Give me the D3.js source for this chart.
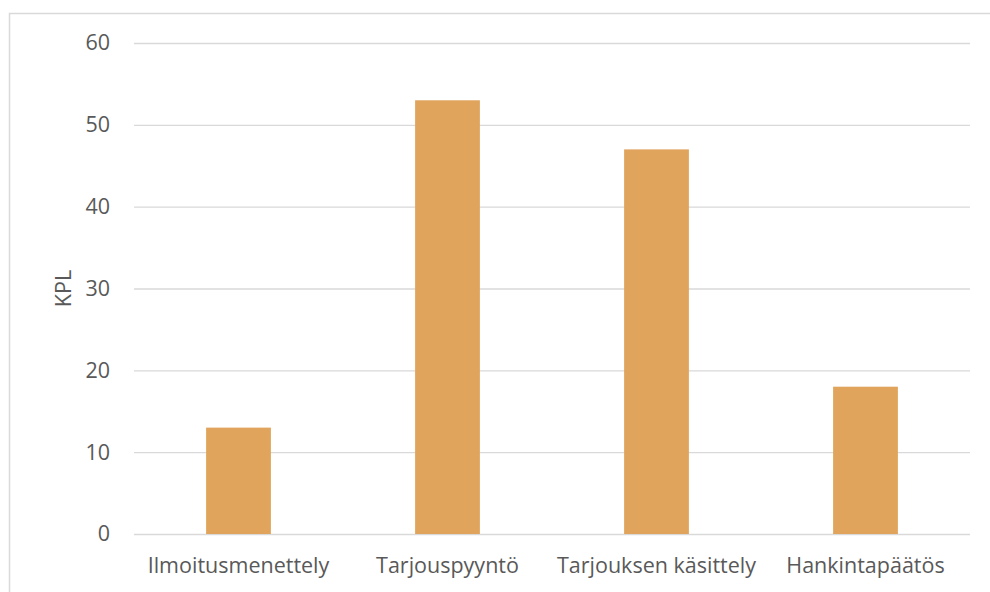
<!DOCTYPE html>
<html>
<head>
<meta charset="utf-8">
<script src="https://cdn.jsdelivr.net/npm/d3@7"></script>
<style>
  html, body { margin: 0; padding: 0; background: #fff; }
  svg { display: block; }
</style>
</head>
<body>
<svg id="chart" width="990" height="592"></svg>
<script>
// Hankintavaiheet ja niiden lukumäärät
const categories = ["Ilmoitusmenettely", "Tarjouspyyntö", "Tarjouksen käsittely", "Hankintapäätös"];
const values = [13, 53, 47, 18];
const yTicks = [0, 10, 20, 30, 40, 50, 60];
const yTitle = "KPL";

const svg = d3.select("#chart");
const W = 990, H = 592;
const margin = { left: 134, right: 20, top: 43, bottom: 58 };
const font = "'Open Sans', sans-serif";
const fontSize = "21.5px";

// Chart frame
svg.append("rect")
  .attr("x", 9.5).attr("y", 13.5)
  .attr("width", W + 20).attr("height", H + 20)
  .attr("fill", "none").attr("stroke", "#d9d9d9").attr("stroke-width", 1.5);

const x = d3.scaleBand()
  .domain(categories)
  .range([margin.left, W - margin.right])
  .paddingInner(0.69).paddingOuter(0.345);

const y = d3.scaleLinear()
  .domain([0, 60])
  .range([H - margin.bottom, margin.top]);

// Gridlines
const grid = svg.append("g")
  .attr("transform", `translate(${margin.left},0)`)
  .call(d3.axisLeft(y).tickValues(yTicks).tickSize(-(W - margin.right - margin.left)).tickFormat(""));
grid.select(".domain").remove();
grid.selectAll("line").attr("stroke", "#d9d9d9").attr("stroke-width", 1.3);

// Bars
svg.append("g").selectAll("rect")
  .data(values)
  .join("rect")
  .attr("x", (d, i) => x(categories[i]))
  .attr("y", d => y(d))
  .attr("width", x.bandwidth())
  .attr("height", d => y(0) - y(d))
  .attr("fill", "#e0a45c");

// Y axis labels
const yAxis = svg.append("g")
  .attr("transform", `translate(${margin.left},0)`)
  .call(d3.axisLeft(y).tickValues(yTicks).tickSize(0).tickPadding(24));
yAxis.select(".domain").remove();
yAxis.selectAll("text")
  .attr("fill", "#595959")
  .style("font-family", font)
  .style("font-size", fontSize);

// X axis labels
const xAxis = svg.append("g")
  .attr("transform", `translate(0,${y(0)})`)
  .call(d3.axisBottom(x).tickSize(0).tickPadding(24));
xAxis.select(".domain").remove();
xAxis.selectAll("text")
  .attr("fill", "#595959")
  .style("font-family", font)
  .style("font-size", fontSize);

// Y axis title
svg.append("text")
  .attr("transform", `translate(71,${(y(0) + y(60)) / 2}) rotate(-90)`)
  .attr("text-anchor", "middle")
  .attr("fill", "#595959")
  .style("font-family", font)
  .style("font-size", fontSize)
  .text(yTitle);
</script>
</body>
</html>
